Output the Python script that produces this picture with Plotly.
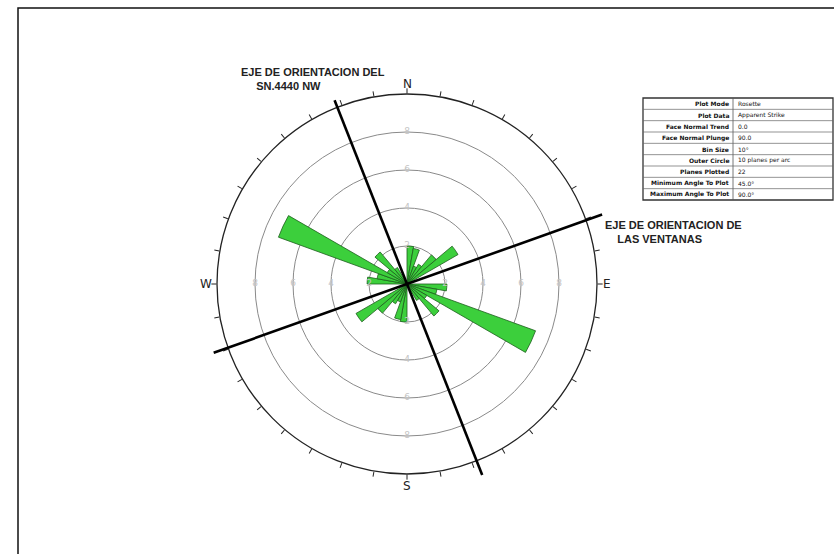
import math
import plotly.graph_objects as go

# Rosette of apparent strike, 10 degree bins (0-180, mirrored to 180-360)
bin_start = list(range(0, 180, 10))
bin_count = [2.0, 1.9, 1.0, 1.2, 2.0, 3.1, 0.0, 0.0, 0.0,
             2.1, 1.6, 7.2, 1.2, 2.2, 1.0, 0.0, 0.0, 0.0]

# Orientation axes drawn across the rose (azimuth, reach of each end in rose units)
axis_sn_az = 338.5
axis_sn_r = [10.4, 10.8]
axis_win_az = 70.4
axis_win_r = [10.9, 10.8]

ring_values = [2, 4, 6, 8]
cardinal_az = [0, 90, 180, 270]
cardinal_txt = ["N", "E", "S", "W"]
cardinal_r = [10.5, 10.5, 10.62, 10.58]

table_keys = ["Plot Mode", "Plot Data", "Face Normal Trend", "Face Normal Plunge",
              "Bin Size", "Outer Circle", "Planes Plotted",
              "Minimum Angle To Plot", "Maximum Angle To Plot"]
table_vals = ["Rosette", "Apparent Strike", "0.0", "90.0", "10°",
              "10 planes per arc", "22", "45.0°", "90.0°"]

W, H = 834, 554
R_MAX = 10
# polar frame in pixels
CX, CY, RPX = 407, 284, 190


def px(x):
    return x / W


def py(y):
    return 1 - y / H


def rose_xy(r, az):
    """pixel position of a rose point (r in rose units, az clockwise from N)"""
    a = math.radians(az)
    d = r / R_MAX * RPX
    return CX + d * math.sin(a), CY - d * math.cos(a)


theta = [b + 5 for b in bin_start] + [b + 185 for b in bin_start]
radius = bin_count + bin_count

fig = go.Figure()

fig.add_trace(go.Barpolar(
    r=radius, theta=theta, width=[10] * len(theta),
    marker=dict(color="#3ccf3c", line=dict(color="#1d5e1d", width=0.8)),
    hoverinfo="skip", showlegend=False,
))

# ring labels along the four cardinal directions
rl_r, rl_t, rl_s = [], [], []
for az in cardinal_az:
    for v in ring_values:
        rl_r.append(v)
        rl_t.append(az)
        rl_s.append(str(v))
fig.add_trace(go.Scatterpolar(
    r=rl_r, theta=rl_t, text=rl_s, mode="text",
    textfont=dict(family="DejaVu Sans", size=9, color="#c4c4c4"),
    hoverinfo="skip", showlegend=False,
))

tick_vals = list(range(0, 360, 10))

shapes = [
    dict(type="rect", xref="paper", yref="paper",
         x0=18 / W, x1=1.02, y0=-0.02, y1=py(8),
         line=dict(color="#111", width=1.5)),
]

# orientation axes: straight lines through the centre, overhanging the circle
for az, (r_a, r_b) in [(axis_sn_az, axis_sn_r), (axis_win_az, axis_win_r)]:
    xa, ya = rose_xy(r_a, az)
    xb, yb = rose_xy(r_b, az + 180)
    shapes.append(dict(type="line", xref="paper", yref="paper",
                       x0=px(xa), y0=py(ya), x1=px(xb), y1=py(yb),
                       line=dict(color="black", width=2.6)))

annotations = []

# compass letters just outside the outer circle
for az, t, rr in zip(cardinal_az, cardinal_txt, cardinal_r):
    x, y = rose_xy(rr, az)
    annotations.append(dict(x=px(x), y=py(y), xref="paper", yref="paper",
                            xanchor="center", yanchor="middle", showarrow=False,
                            text=t, font=dict(family="DejaVu Sans", size=12, color="#222")))

# information table (drawn with shapes + annotations)
tx0, tx1, tsplit, ty0, ty1 = 643, 833, 733, 98, 200
row_h = (ty1 - ty0) / len(table_keys)
shapes += [
    dict(type="rect", xref="paper", yref="paper",
         x0=px(tx0), x1=px(tx1), y0=py(ty1), y1=py(ty0),
         line=dict(color="#333", width=1.3), fillcolor="white", layer="below"),
    dict(type="line", xref="paper", yref="paper",
         x0=px(tsplit), x1=px(tsplit), y0=py(ty1), y1=py(ty0),
         line=dict(color="#555", width=0.8)),
]
for i, (k, v) in enumerate(zip(table_keys, table_vals)):
    yc = ty0 + row_h * (i + 0.5)
    if i > 0:
        yl = ty0 + row_h * i
        shapes.append(dict(type="line", xref="paper", yref="paper",
                           x0=px(tx0), x1=px(tx1), y0=py(yl), y1=py(yl),
                           line=dict(color="#666", width=0.7)))
    annotations.append(dict(x=px(tsplit - 2), y=py(yc), xref="paper", yref="paper",
                            xanchor="right", yanchor="middle", showarrow=False,
                            text="<b>" + k + "</b>",
                            font=dict(family="DejaVu Sans", size=6, color="#111")))
    annotations.append(dict(x=px(tsplit + 3), y=py(yc), xref="paper", yref="paper",
                            xanchor="left", yanchor="middle", showarrow=False,
                            text=v,
                            font=dict(family="DejaVu Sans", size=6, color="#111")))

annotations += [
    dict(x=px(239), y=py(79), xref="paper", yref="paper",
         xanchor="left", yanchor="middle", align="left", showarrow=False,
         text="<b>EJE DE ORIENTACION DEL<br>&nbsp;&nbsp;&nbsp;&nbsp;&nbsp;SN.4440 NW</b>",
         font=dict(family="Liberation Sans", size=11, color="#222")),
    dict(x=px(603), y=py(232), xref="paper", yref="paper",
         xanchor="left", yanchor="middle", align="left", showarrow=False,
         text="<b>EJE DE ORIENTACION DE<br>&nbsp;&nbsp;&nbsp;&nbsp;LAS VENTANAS</b>",
         font=dict(family="Liberation Sans", size=11, color="#222")),
]

fig.update_layout(
    width=W, height=H,
    margin=dict(l=0, r=0, t=0, b=0),
    paper_bgcolor="white",
    polar=dict(
        domain=dict(x=[px(CX - RPX), px(CX + RPX)], y=[py(CY + RPX), py(CY - RPX)]),
        bgcolor="white",
        radialaxis=dict(range=[0, R_MAX], tickvals=ring_values, showticklabels=False,
                        ticks="", showline=False, gridcolor="#8a8a8a", gridwidth=1),
        angularaxis=dict(rotation=90, direction="clockwise", tickvals=tick_vals,
                         showticklabels=False, ticks="outside", ticklen=5,
                         tickcolor="#222", tickwidth=1, showgrid=False,
                         linecolor="#222", linewidth=1.3),
    ),
    annotations=annotations,
    shapes=shapes,
)

fig.write_html("out.html")
